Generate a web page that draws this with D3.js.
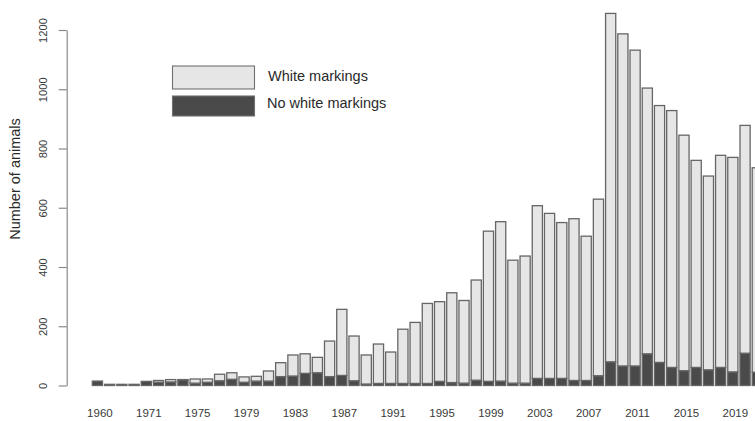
<!DOCTYPE html>
<html>
<head>
<meta charset="utf-8">
<script src="https://cdn.jsdelivr.net/npm/d3@7"></script>
<style>
  html, body { margin: 0; padding: 0; background: #ffffff; overflow: hidden; }
  svg { display: block; font-family: "Liberation Sans", Arial, sans-serif; }
</style>
</head>
<body>
<svg id="chart" width="755" height="421"></svg>
<script>
// Years recorded (one bar each)
const years = [
  "1960", "1965", "1968", "1970", "1971", "1972", "1973", "1974", "1975", "1976",
  "1977", "1978", "1979", "1980", "1981", "1982", "1983", "1984", "1985", "1986",
  "1987", "1988", "1989", "1990", "1991", "1992", "1993", "1994", "1995", "1996",
  "1997", "1998", "1999", "2000", "2001", "2002", "2003", "2004", "2005", "2006",
  "2007", "2008", "2009", "2010", "2011", "2012", "2013", "2014", "2015", "2016",
  "2017", "2018", "2019", "2020", "2021"
];

// Animals without white markings (bottom segment)
const noWhiteMarkings = [
  15, 4, 4, 4, 14, 11, 12, 19, 8, 11,
  16, 21, 11, 15, 15, 30, 32, 41, 43, 30,
  34, 16, 5, 7, 7, 7, 7, 7, 14, 10,
  8, 18, 14, 15, 8, 8, 24, 24, 24, 17,
  17, 33, 80, 66, 66, 107, 78, 61, 50, 61,
  53, 61, 46, 109, 45
];

// Animals with white markings (top segment)
const whiteMarkings = [
  0, 0, 0, 0, 0, 6, 8, 1, 14, 11,
  22, 22, 18, 16, 34, 47, 71, 66, 52, 120,
  223, 151, 98, 133, 106, 183, 206, 270, 269, 303,
  279, 338, 507, 538, 415, 429, 583, 557, 526, 546,
  487, 596, 1176, 1121, 1066, 897, 867, 867, 795, 699,
  654, 716, 724, 769, 690
];

const yTicks = [0, 200, 400, 600, 800, 1000, 1200];
const labelledYears = ["1960", "1971", "1975", "1979", "1983", "1987", "1991",
  "1995", "1999", "2003", "2007", "2011", "2015", "2019"];

const seriesNames = ["No white markings", "White markings"];
const seriesFill = { "No white markings": "#4a4a4a", "White markings": "#e6e6e6" };

const rows = years.map((yr, i) => ({
  year: yr,
  "No white markings": noWhiteMarkings[i],
  "White markings": whiteMarkings[i]
}));

const svg = d3.select("#chart");

const x = d3.scaleBand()
  .domain(years)
  .range([91.3, 91.3 + years.length * 12.22])
  .paddingInner(1 / 6)
  .paddingOuter(1 / 12);

const y = d3.scaleLinear()
  .domain([0, 1200])
  .range([385.5, 30]);

const stacked = d3.stack().keys(seriesNames)(rows);

// Stacked bars
svg.append("g")
  .selectAll("g")
  .data(stacked)
  .join("g")
    .attr("fill", d => seriesFill[d.key])
  .selectAll("rect")
  .data(d => d)
  .join("rect")
    .attr("x", d => x(d.data.year))
    .attr("width", x.bandwidth())
    .attr("y", d => y(d[1]))
    .attr("height", d => Math.max(0, y(d[0]) - y(d[1])))
    .attr("stroke", "#666666")
    .attr("stroke-width", 1.3);

// Y axis with rotated tick labels
const yAxis = svg.append("g")
  .attr("transform", "translate(66.7,0)")
  .call(d3.axisLeft(y).tickValues(yTicks).tickFormat(d3.format("d")).tickSize(8).tickSizeOuter(0));
yAxis.select(".domain").attr("stroke", "#8a8a8a").attr("stroke-width", 1.2);
yAxis.selectAll(".tick line").attr("stroke", "#8a8a8a").attr("stroke-width", 1.2);
yAxis.selectAll(".tick text")
  .attr("transform", "rotate(-90)")
  .attr("x", 0)
  .attr("y", -20.2)
  .attr("dy", 0)
  .attr("text-anchor", "middle")
  .attr("fill", "#3a3a3a")
  .style("font-size", "11.2px")
  .style("font-family", "'Liberation Sans', Arial, sans-serif");

// Y axis title
svg.append("text")
  .attr("transform", "translate(20,179) rotate(-90)")
  .attr("text-anchor", "middle")
  .attr("fill", "#2a2a2a")
  .style("font-size", "14.5px")
  .text("Number of animals");

// Year labels under every fourth bar
svg.append("g")
  .selectAll("text")
  .data(labelledYears)
  .join("text")
    .attr("x", d => x(d) + x.bandwidth() / 2 + 2.5)
    .attr("y", 417)
    .attr("text-anchor", "middle")
    .attr("fill", "#3a3a3a")
    .style("font-size", "11.5px")
    .text(d => d);

// Legend
const legendItems = [
  { name: "White markings", top: 66, h: 23, textY: 81 },
  { name: "No white markings", top: 96, h: 20, textY: 108 }
];
const legend = svg.append("g");
legend.selectAll("rect")
  .data(legendItems)
  .join("rect")
    .attr("x", 172.5)
    .attr("y", d => d.top)
    .attr("width", 82)
    .attr("height", d => d.h)
    .attr("fill", d => seriesFill[d.name])
    .attr("stroke", "#707070")
    .attr("stroke-width", 1.1);
legend.selectAll("text")
  .data(legendItems)
  .join("text")
    .attr("x", d => d.name === "White markings" ? 268 : 267)
    .attr("y", d => d.textY)
    .attr("fill", "#2a2a2a")
    .style("font-size", "14.5px")
    .text(d => d.name);
</script>
</body>
</html>
